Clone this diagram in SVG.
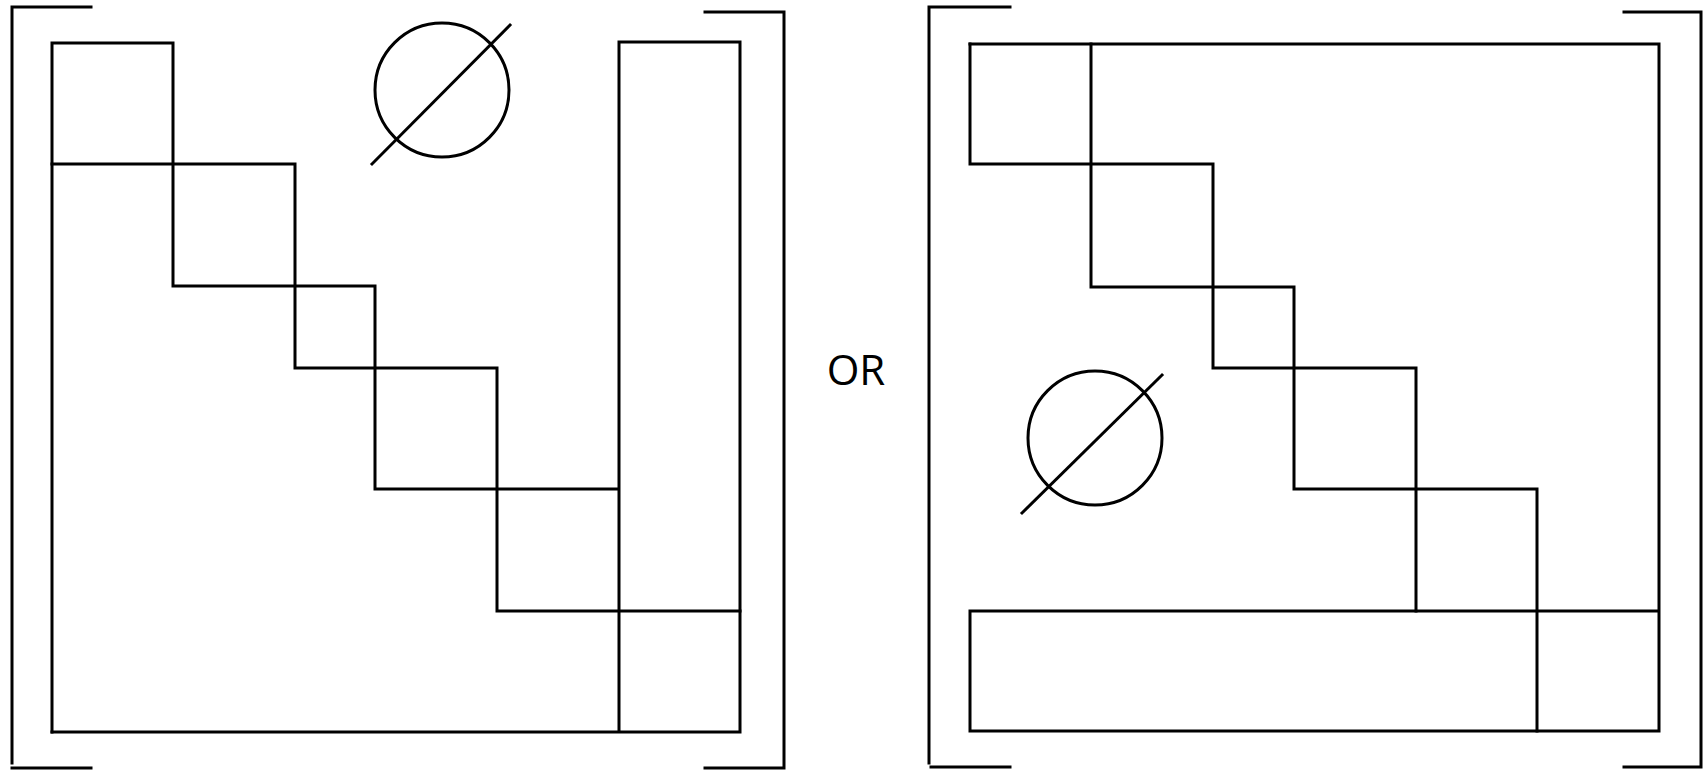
<svg xmlns="http://www.w3.org/2000/svg" width="1704" height="772" viewBox="0 0 1704 772">
<style>
.ln{fill:none;stroke:#000;stroke-width:3;stroke-linecap:square;stroke-linejoin:miter}
.tx{font-family:"Open Sans","Noto Sans",sans-serif;font-size:42px;fill:#000}
</style>
<rect width="1704" height="772" fill="#fff"/>
<g id="left-matrix" class="ln">
  <path d="M91,7 H12 V763 M12,768 H91"/>
  <path d="M705,12 H784 V768 H705"/>
  <path d="M52,732 V43 H173 V286 H375 V489 H618"/>
  <path d="M52,164 H295 V368 H497 V611 H740"/>
  <path d="M52,732 H740 V42 H619 V732"/>
  <circle cx="442" cy="90" r="67"/>
  <path d="M372,164 L510,25"/>
</g>
<g id="right-matrix" class="ln">
  <path d="M1010,7 H929 V763 M931,767 H1010"/>
  <path d="M1624,12 H1701 V767 H1624"/>
  <path d="M970,44 H1659 V731 H970 V611 H1659"/>
  <path d="M970,44 V164 H1213 V368 H1416 V611"/>
  <path d="M1091,44 V287 H1294 V489 H1537 V731"/>
  <circle cx="1095" cy="438" r="67"/>
  <path d="M1022,513 L1162,375"/>
</g>
<g id="or-label">
  <text class="tx" x="856" y="385" text-anchor="middle">OR</text>
</g>
</svg>
